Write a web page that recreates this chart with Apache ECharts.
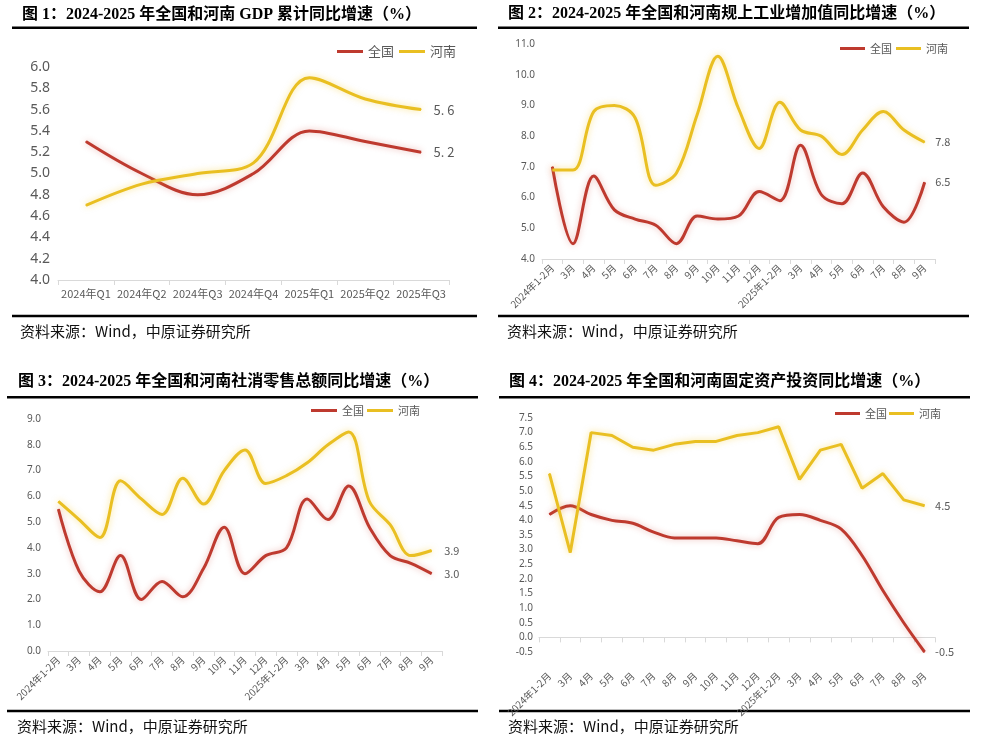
<!DOCTYPE html>
<html><head><meta charset="utf-8">
<script src="https://cdn.jsdelivr.net/npm/echarts@6/dist/echarts.min.js"></script>
<style>html,body{margin:0;padding:0;background:#fff}#c{width:986px;height:738px}</style>
</head><body><div id="c"></div>
<script>
// ---- data ----
const gdpCats = ['2024年Q1','2024年Q2','2024年Q3','2024年Q4','2025年Q1','2025年Q2','2025年Q3'];
const gdpNational = [5.3, 5.0, 4.8, 5.0, 5.4, 5.3, 5.2];
const gdpHenan = [4.7, 4.9, 5.0, 5.1, 5.9, 5.7, 5.6];

const monthCats = ['2024年1-2月','3月','4月','5月','6月','7月','8月','9月','10月','11月','12月','2025年1-2月','3月','4月','5月','6月','7月','8月','9月'];

const indNational = [7.0, 4.5, 6.7, 5.6, 5.3, 5.1, 4.5, 5.4, 5.3, 5.4, 6.2, 5.9, 7.7, 6.1, 5.8, 6.8, 5.7, 5.2, 6.5];
const indHenan = [6.9, 6.9, 8.8, 9.0, 8.6, 6.4, 6.8, 8.7, 10.6, 8.9, 7.6, 9.1, 8.2, 8.0, 7.4, 8.2, 8.8, 8.2, 7.8];

const retailNational = [5.5, 3.1, 2.3, 3.7, 2.0, 2.7, 2.1, 3.2, 4.8, 3.0, 3.7, 4.0, 5.9, 5.1, 6.4, 4.8, 3.7, 3.4, 3.0];
const retailHenan = [5.8, 5.1, 4.4, 6.6, 5.9, 5.3, 6.7, 5.7, 7.0, 7.8, 6.5, 6.8, 7.3, 8.0, 8.5, 5.8, 4.9, 3.7, 3.9];

const faiNational = [4.2, 4.5, 4.2, 4.0, 3.9, 3.6, 3.4, 3.4, 3.4, 3.3, 3.2, 4.1, 4.2, 4.0, 3.7, 2.8, 1.6, 0.5, -0.5];
const faiHenan = [5.6, 2.9, 7.0, 6.9, 6.5, 6.4, 6.6, 6.7, 6.7, 6.9, 7.0, 7.2, 5.4, 6.4, 6.6, 5.1, 5.6, 4.7, 4.5];

const titles = [
  '图 1：2024-2025 年全国和河南 GDP 累计同比增速（%）',
  '图 2：2024-2025 年全国和河南规上工业增加值同比增速（%）',
  '图 3：2024-2025 年全国和河南社消零售总额同比增速（%）',
  '图 4：2024-2025 年全国和河南固定资产投资同比增速（%）'
];
const sourceText = '资料来源：Wind，中原证券研究所';
const seriesNames = ['全国', '河南'];

// ---- styles ----
const RED = '#BE3A2F', YEL = '#E9BF22';
const CJK = "'Noto Sans CJK SC', 'Noto Sans', sans-serif";
const GRAY = '#595959';
const AXC = '#d9d9d9';
const SM = 0.35;

function mkSeries(name, data, idx, color, glow, smooth, fontSize, dist, fmt) {
  const last = data.length - 1;
  return {
    name, type: 'line', data, xAxisIndex: idx, yAxisIndex: idx,
    smooth, symbol: 'circle', symbolSize: 1, showSymbol: true,
    color, itemStyle: { color },
    lineStyle: { width: 3, color, shadowColor: glow, shadowBlur: 6 },
    label: {
      show: true, position: 'right', distance: dist, color: GRAY, fontSize,
      fontFamily: CJK,
      formatter: p => p.dataIndex === last ? fmt(p.value) : ''
    },
    emphasis: { disabled: true }
  };
}
const glowR = 'rgba(200,60,45,0.35)', glowY = 'rgba(245,200,30,0.5)';
const f1 = v => v.toFixed(1);
const fSpaced = v => v.toFixed(1).replace('.', '. ');

function mkX(idx, cats, rotate, fontSize, margin) {
  return {
    gridIndex: idx, type: 'category', data: cats, boundaryGap: true,
    axisLine: { onZero: true, lineStyle: { color: AXC, width: 1 } },
    axisTick: { show: true, length: 5, lineStyle: { color: AXC } },
    axisLabel: { rotate, fontSize, color: GRAY, margin, interval: 0, fontFamily: CJK },
    splitLine: { show: false }
  };
}
function mkY(idx, min, max, interval, fontSize, margin) {
  return {
    gridIndex: idx, type: 'value', min, max, interval,
    axisLine: { show: false }, axisTick: { show: false }, splitLine: { show: false },
    axisLabel: { fontSize, color: GRAY, margin, formatter: v => v.toFixed(1), fontFamily: "'Noto Sans', sans-serif" }
  };
}
function mkLegend(left, top, fontSize, w, gap) {
  return {
    left, top, orient: 'horizontal', data: seriesNames, icon: 'rect',
    itemWidth: w, itemHeight: 3, itemGap: gap, padding: 0,
    textStyle: { fontSize, color: GRAY, fontFamily: CJK }
  };
}
function rule(x1, x2, y) {
  return { type: 'line', shape: { x1, y1: y, x2, y2: y }, style: { stroke: '#000', lineWidth: 2.5 }, silent: true };
}
function src(x, y) {
  return { type: 'text', x, y, silent: true,
    style: { text: sourceText, font: "15px 'Noto Sans CJK SC', 'Liberation Sans', sans-serif", fill: '#111', verticalAlign: 'middle' } };
}
function mkTitle(text, left, top) {
  return { text, left, top, padding: 0,
    textStyle: { fontSize: 16, fontWeight: 'bold', color: '#000', fontFamily: "'Liberation Serif', 'Noto Sans CJK SC', serif" } };
}

const option = {
  animation: false,
  backgroundColor: '#fff',
  title: [
    mkTitle(titles[0], 22, 7),
    mkTitle(titles[1], 508, 6),
    mkTitle(titles[2], 18, 374),
    mkTitle(titles[3], 509, 374)
  ],
  legend: [
    mkLegend(337, 45, 13, 26, 5),
    mkLegend(840, 43, 11, 25, 4),
    mkLegend(311, 405, 11, 26, 3),
    mkLegend(835, 408, 11, 25, 2)
  ],
  grid: [
    { left: 58, top: 67, width: 391, height: 213 },
    { left: 542, top: 44, width: 393, height: 215 },
    { left: 48, top: 419, width: 394, height: 232 },
    { left: 539, top: 418, width: 396, height: 234 }
  ],
  xAxis: [
    mkX(0, gdpCats, 0, 11, 8),
    mkX(1, monthCats, 45, 10, 7),
    mkX(2, monthCats, 45, 10, 7),
    mkX(3, monthCats, 45, 10, 22)
  ],
  yAxis: [
    mkY(0, 4, 6, 0.2, 14, 8),
    mkY(1, 4, 11, 1, 10, 7),
    mkY(2, 0, 9, 1, 10, 7),
    mkY(3, -0.5, 7.5, 0.5, 10, 6)
  ],
  series: [
    mkSeries('全国', gdpNational, 0, RED, glowR, SM, 13, 12, fSpaced),
    mkSeries('河南', gdpHenan, 0, YEL, glowY, SM, 13, 12, fSpaced),
    mkSeries('全国', indNational, 1, RED, glowR, SM, 11, 10, f1),
    mkSeries('河南', indHenan, 1, YEL, glowY, SM, 11, 10, f1),
    mkSeries('全国', retailNational, 2, RED, glowR, SM, 11, 12, f1),
    mkSeries('河南', retailHenan, 2, YEL, glowY, SM, 11, 12, f1),
    mkSeries('全国', faiNational, 3, RED, glowR, SM, 11, 10, f1),
    mkSeries('河南', faiHenan, 3, YEL, glowY, false, 11, 10, f1)
  ],
  graphic: [
    rule(12, 477, 27.7), rule(498, 969, 27.7),
    rule(12, 477, 316), rule(498, 969, 316),
    rule(7, 478, 397.3), rule(499, 970, 397.3),
    rule(7, 478, 711), rule(499, 970, 711),
    src(20, 331), src(507, 331), src(17, 726), src(508, 726)
  ]
};
const chart = echarts.init(document.getElementById('c'), null, { renderer: 'canvas' });
chart.setOption(option);
</script>
</body></html>
